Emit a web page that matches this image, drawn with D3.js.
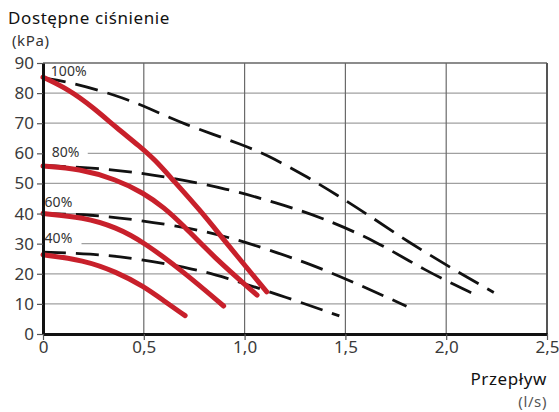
<!DOCTYPE html>
<html>
<head>
<meta charset="utf-8">
<script src="https://cdn.jsdelivr.net/npm/d3@7"></script>
<style>
  body { margin: 0; background: #fff; }
  text { font-family: "Noto Sans", sans-serif; }
</style>
</head>
<body>
<div class="chart"></div>
<script>
// pump curves, flow (l/s) vs pressure (kPa)
const levels = ["100%", "80%", "60%", "40%"];

const red100 = [[0, 85.3], [0.133, 81], [0.249, 75.2], [0.365, 68.5], [0.48, 62.3], [0.56, 57.5], [0.63, 52.2], [0.78, 41.1], [0.912, 30.0], [1.11, 14.0]];
const red80 = [[0, 55.8], [0.18, 54.9], [0.365, 51.3], [0.5, 46.8], [0.6, 42], [0.69, 36.5], [0.846, 25.6], [1.062, 12.9]];
const red60 = [[0, 40], [0.2, 38.8], [0.365, 35.4], [0.5, 30.5], [0.7, 20.5], [0.896, 9.3]];
const red40 = [[0, 26.3], [0.2, 24.6], [0.365, 20.6], [0.5, 15.8], [0.6, 11.0], [0.705, 6.1]];

const dash100 = [[0, 85], [0.133, 83.7], [0.365, 79.3], [0.53, 74.9], [0.688, 69.9], [1.0, 62.7], [1.145, 58.3], [1.31, 52.2], [1.46, 46.1], [1.617, 39.4], [1.81, 30.6], [2.07, 20.1], [2.236, 13.8]];
const dash80 = [[0, 56], [0.332, 54.9], [0.614, 52.2], [0.912, 48.3], [1.16, 43.5], [1.377, 38.9], [1.66, 30.6], [1.89, 21.2], [2.15, 12.9]];
const dash60 = [[0, 40], [0.232, 39.7], [0.48, 37.8], [0.746, 35.0], [0.945, 31.7], [1.128, 27.8], [1.343, 22.8], [1.576, 16.2], [1.803, 9.2]];
const dash40 = [[0, 27.2], [0.232, 26.7], [0.48, 25.0], [0.763, 21.4], [0.896, 18.9], [1.16, 13.3], [1.47, 6.0]];

const redSeries = [red100, red80, red60, red40];
const dashSeries = [dash100, dash80, dash60, dash40];

const xTicks = [0, 0.5, 1.0, 1.5, 2.0, 2.5];
const xTickLabels = ["0", "0,5", "1,0", "1,5", "2,0", "2,5"];
const yTicks = [0, 10, 20, 30, 40, 50, 60, 70, 80, 90];

// label anchor points in data units
const labelPos = [[0.039, 85.6], [0.043, 58.8], [0.008, 42.2], [0.008, 30.2]];

const width = 559, height = 412;
const margin = { top: 63, right: 12, bottom: 78, left: 43 };

const x = d3.scaleLinear().domain([0, 2.5]).range([margin.left, width - margin.right]);
const y = d3.scaleLinear().domain([0, 90]).range([height - margin.bottom, margin.top]);

const svg = d3.select(".chart").append("svg")
  .attr("width", width)
  .attr("height", height);

// horizontal grid
svg.append("g")
  .selectAll("line")
  .data(yTicks.slice(1, -1))
  .join("line")
  .attr("x1", x(0)).attr("x2", x(2.5))
  .attr("y1", d => y(d)).attr("y2", d => y(d))
  .attr("stroke", "#a0a0a0")
  .attr("stroke-width", 1.3);

// vertical grid
svg.append("g")
  .selectAll("line")
  .data(xTicks.slice(1, -1))
  .join("line")
  .attr("x1", d => x(d)).attr("x2", d => x(d))
  .attr("y1", y(0)).attr("y2", y(90))
  .attr("stroke", "#6a6a6a")
  .attr("stroke-width", 1.2);

// top and right frame
svg.append("line")
  .attr("x1", x(0)).attr("x2", x(2.5))
  .attr("y1", y(90)).attr("y2", y(90))
  .attr("stroke", "#666").attr("stroke-width", 1.6);
svg.append("line")
  .attr("x1", x(2.5)).attr("x2", x(2.5))
  .attr("y1", y(90)).attr("y2", y(0))
  .attr("stroke", "#555").attr("stroke-width", 2);

// white boxes behind level labels cut the grid lines
const labelBoxes = [[0.0, 0.222, 60], [0.0, 0.191, 30]];
svg.append("g")
  .selectAll("rect")
  .data(labelBoxes)
  .join("rect")
  .attr("x", d => x(d[0]))
  .attr("width", d => x(d[1]) - x(d[0]))
  .attr("y", d => y(d[2]) - 3)
  .attr("height", 6)
  .attr("fill", "#fff");

const line = d3.line()
  .x(d => x(d[0]))
  .y(d => y(d[1]))
  .curve(d3.curveBasis);

// dashed curves
svg.append("g")
  .selectAll("path")
  .data(dashSeries)
  .join("path")
  .attr("d", line)
  .attr("fill", "none")
  .attr("stroke", "#111")
  .attr("stroke-width", 2.8)
  .attr("stroke-dasharray", "23,10");

// red curves
svg.append("g")
  .selectAll("path")
  .data(redSeries)
  .join("path")
  .attr("d", line)
  .attr("fill", "none")
  .attr("stroke", "#c8202b")
  .attr("stroke-width", 5)
  .attr("stroke-linecap", "round");

// level labels
svg.append("g")
  .selectAll("text")
  .data(levels)
  .join("text")
  .attr("x", (d, i) => x(labelPos[i][0]))
  .attr("y", (d, i) => y(labelPos[i][1]))
  .attr("font-size", 14)
  .attr("fill", "#333")
  .text(d => d);

// y axis
const yAxis = svg.append("g")
  .attr("transform", `translate(${x(0)},0)`)
  .call(d3.axisLeft(y).tickValues(yTicks).tickSize(6).tickSizeOuter(0).tickPadding(3));
yAxis.select(".domain").attr("stroke", "#111").attr("stroke-width", 3);
yAxis.selectAll(".tick line").attr("stroke", "#555").attr("stroke-width", 1.2);
yAxis.selectAll(".tick text")
  .attr("font-size", 17)
  .attr("fill", "#3a3a3a")
  .attr("font-family", "Noto Sans, sans-serif");

// x axis
const xAxis = svg.append("g")
  .attr("transform", `translate(0,${y(0)})`)
  .call(d3.axisBottom(x).tickValues(xTicks).tickFormat((d, i) => xTickLabels[i]).tickSize(6).tickSizeOuter(0).tickPadding(1));
xAxis.select(".domain").attr("stroke", "#111").attr("stroke-width", 3);
xAxis.selectAll(".tick line").attr("stroke", "#555").attr("stroke-width", 1.2);
xAxis.selectAll(".tick text")
  .attr("font-size", 17)
  .attr("fill", "#3a3a3a")
  .attr("font-family", "Noto Sans, sans-serif");

// titles
svg.append("text")
  .attr("x", 8).attr("y", 24)
  .attr("font-size", 17).attr("letter-spacing", 0.6).attr("fill", "#111")
  .text("Dostępne ciśnienie");
svg.append("text")
  .attr("x", 12).attr("y", 46)
  .attr("font-size", 15).attr("letter-spacing", 0.6).attr("fill", "#333")
  .text("(kPa)");
svg.append("text")
  .attr("x", 547).attr("y", 385)
  .attr("text-anchor", "end")
  .attr("font-size", 17).attr("letter-spacing", 0.6).attr("fill", "#111")
  .text("Przepływ");
svg.append("text")
  .attr("x", 547).attr("y", 407)
  .attr("text-anchor", "end")
  .attr("font-size", 15).attr("letter-spacing", 0.6).attr("fill", "#555")
  .text("(l/s)");
</script>
</body>
</html>
